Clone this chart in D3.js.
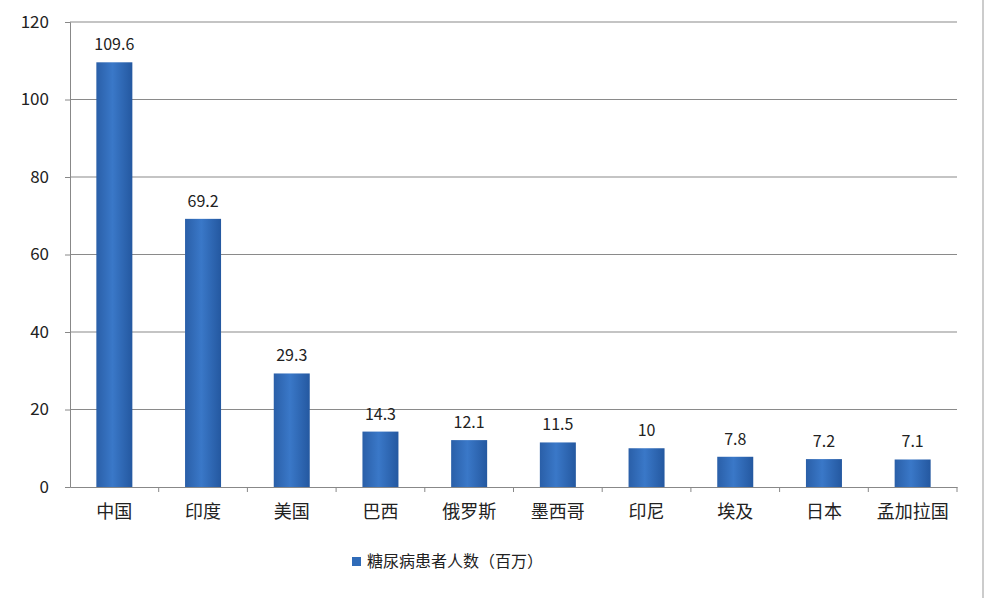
<!DOCTYPE html>
<html><head><meta charset="utf-8">
<script src="https://cdn.jsdelivr.net/npm/d3@7"></script>
<style>body{margin:0;background:#fff}text{font-family:"Noto Sans CJK SC","DejaVu Sans",sans-serif}</style>
</head><body><svg id="c" width="992" height="598"></svg>
<script>
const categories=["中国","印度","美国","巴西","俄罗斯","墨西哥","印尼","埃及","日本","孟加拉国"];
const values=[109.6,69.2,29.3,14.3,12.1,11.5,10,7.8,7.2,7.1];
const yTicks=[0,20,40,60,80,100,120];
const seriesName="糖尿病患者人数（百万）";
const svg=d3.select("#c");
const L=70,R=957,T=22,B=487;
const x=d3.scaleBand().domain(categories).range([L,R]);
const y=d3.scaleLinear().domain([0,120]).range([B,T]);
const defs=svg.append("defs");
const g=defs.append("linearGradient").attr("id","bg").attr("x1",0).attr("x2",1);
g.append("stop").attr("offset","0").attr("stop-color","#2a5fa8");
g.append("stop").attr("offset","0.45").attr("stop-color","#3a78c8");
g.append("stop").attr("offset","1").attr("stop-color","#2458a0");
svg.append("line").attr("x1",983).attr("x2",983).attr("y1",0).attr("y2",598).attr("stroke","#999");
svg.append("g").selectAll("line").data(yTicks.slice(1)).join("line")
 .attr("x1",L).attr("x2",R).attr("y1",d=>y(d)).attr("y2",d=>y(d)).attr("stroke","#8a8a8a").attr("stroke-width",1.2);
const ya=svg.append("g").attr("transform",`translate(${L},0)`).call(d3.axisLeft(y).tickValues(yTicks).tickSize(5).tickPadding(16));
ya.selectAll("text").attr("font-size",17).attr("fill","#222").attr("font-family","Liberation Sans, sans-serif");
ya.selectAll("line,path").attr("stroke","#888");
const bw=36;
svg.selectAll("rect.b").data(values).join("rect").attr("class","b")
 .attr("x",(d,i)=>x(categories[i])+x.bandwidth()/2-bw/2).attr("width",bw)
 .attr("y",d=>y(d)).attr("height",d=>B-y(d)).attr("fill","url(#bg)");
svg.selectAll("text.v").data(values).join("text").attr("class","v")
 .attr("x",(d,i)=>x(categories[i])+x.bandwidth()/2).attr("y",d=>y(d)-12)
 .attr("text-anchor","middle").attr("font-size",16).attr("fill","#222").attr("font-family","Liberation Sans, sans-serif").text(d=>d);
const xa=svg.append("g").attr("transform",`translate(0,${B})`).call(d3.axisBottom(x).tickSize(0).tickPadding(18));
xa.selectAll("text").attr("font-size",18).attr("fill","#222");
xa.select("path").attr("stroke","#888");
svg.append("g").selectAll("line").data(categories.slice(1).concat(["end"])).join("line")
 .attr("x1",(d,i)=>L+(i+1)*x.bandwidth()).attr("x2",(d,i)=>L+(i+1)*x.bandwidth())
 .attr("y1",B).attr("y2",B+5).attr("stroke","#888");
svg.append("rect").attr("x",352).attr("y",557).attr("width",9).attr("height",9).attr("fill","#2f6bb8");
svg.append("text").attr("x",367).attr("y",567).attr("font-size",16).attr("fill","#222").text(seriesName);
</script></body></html>
